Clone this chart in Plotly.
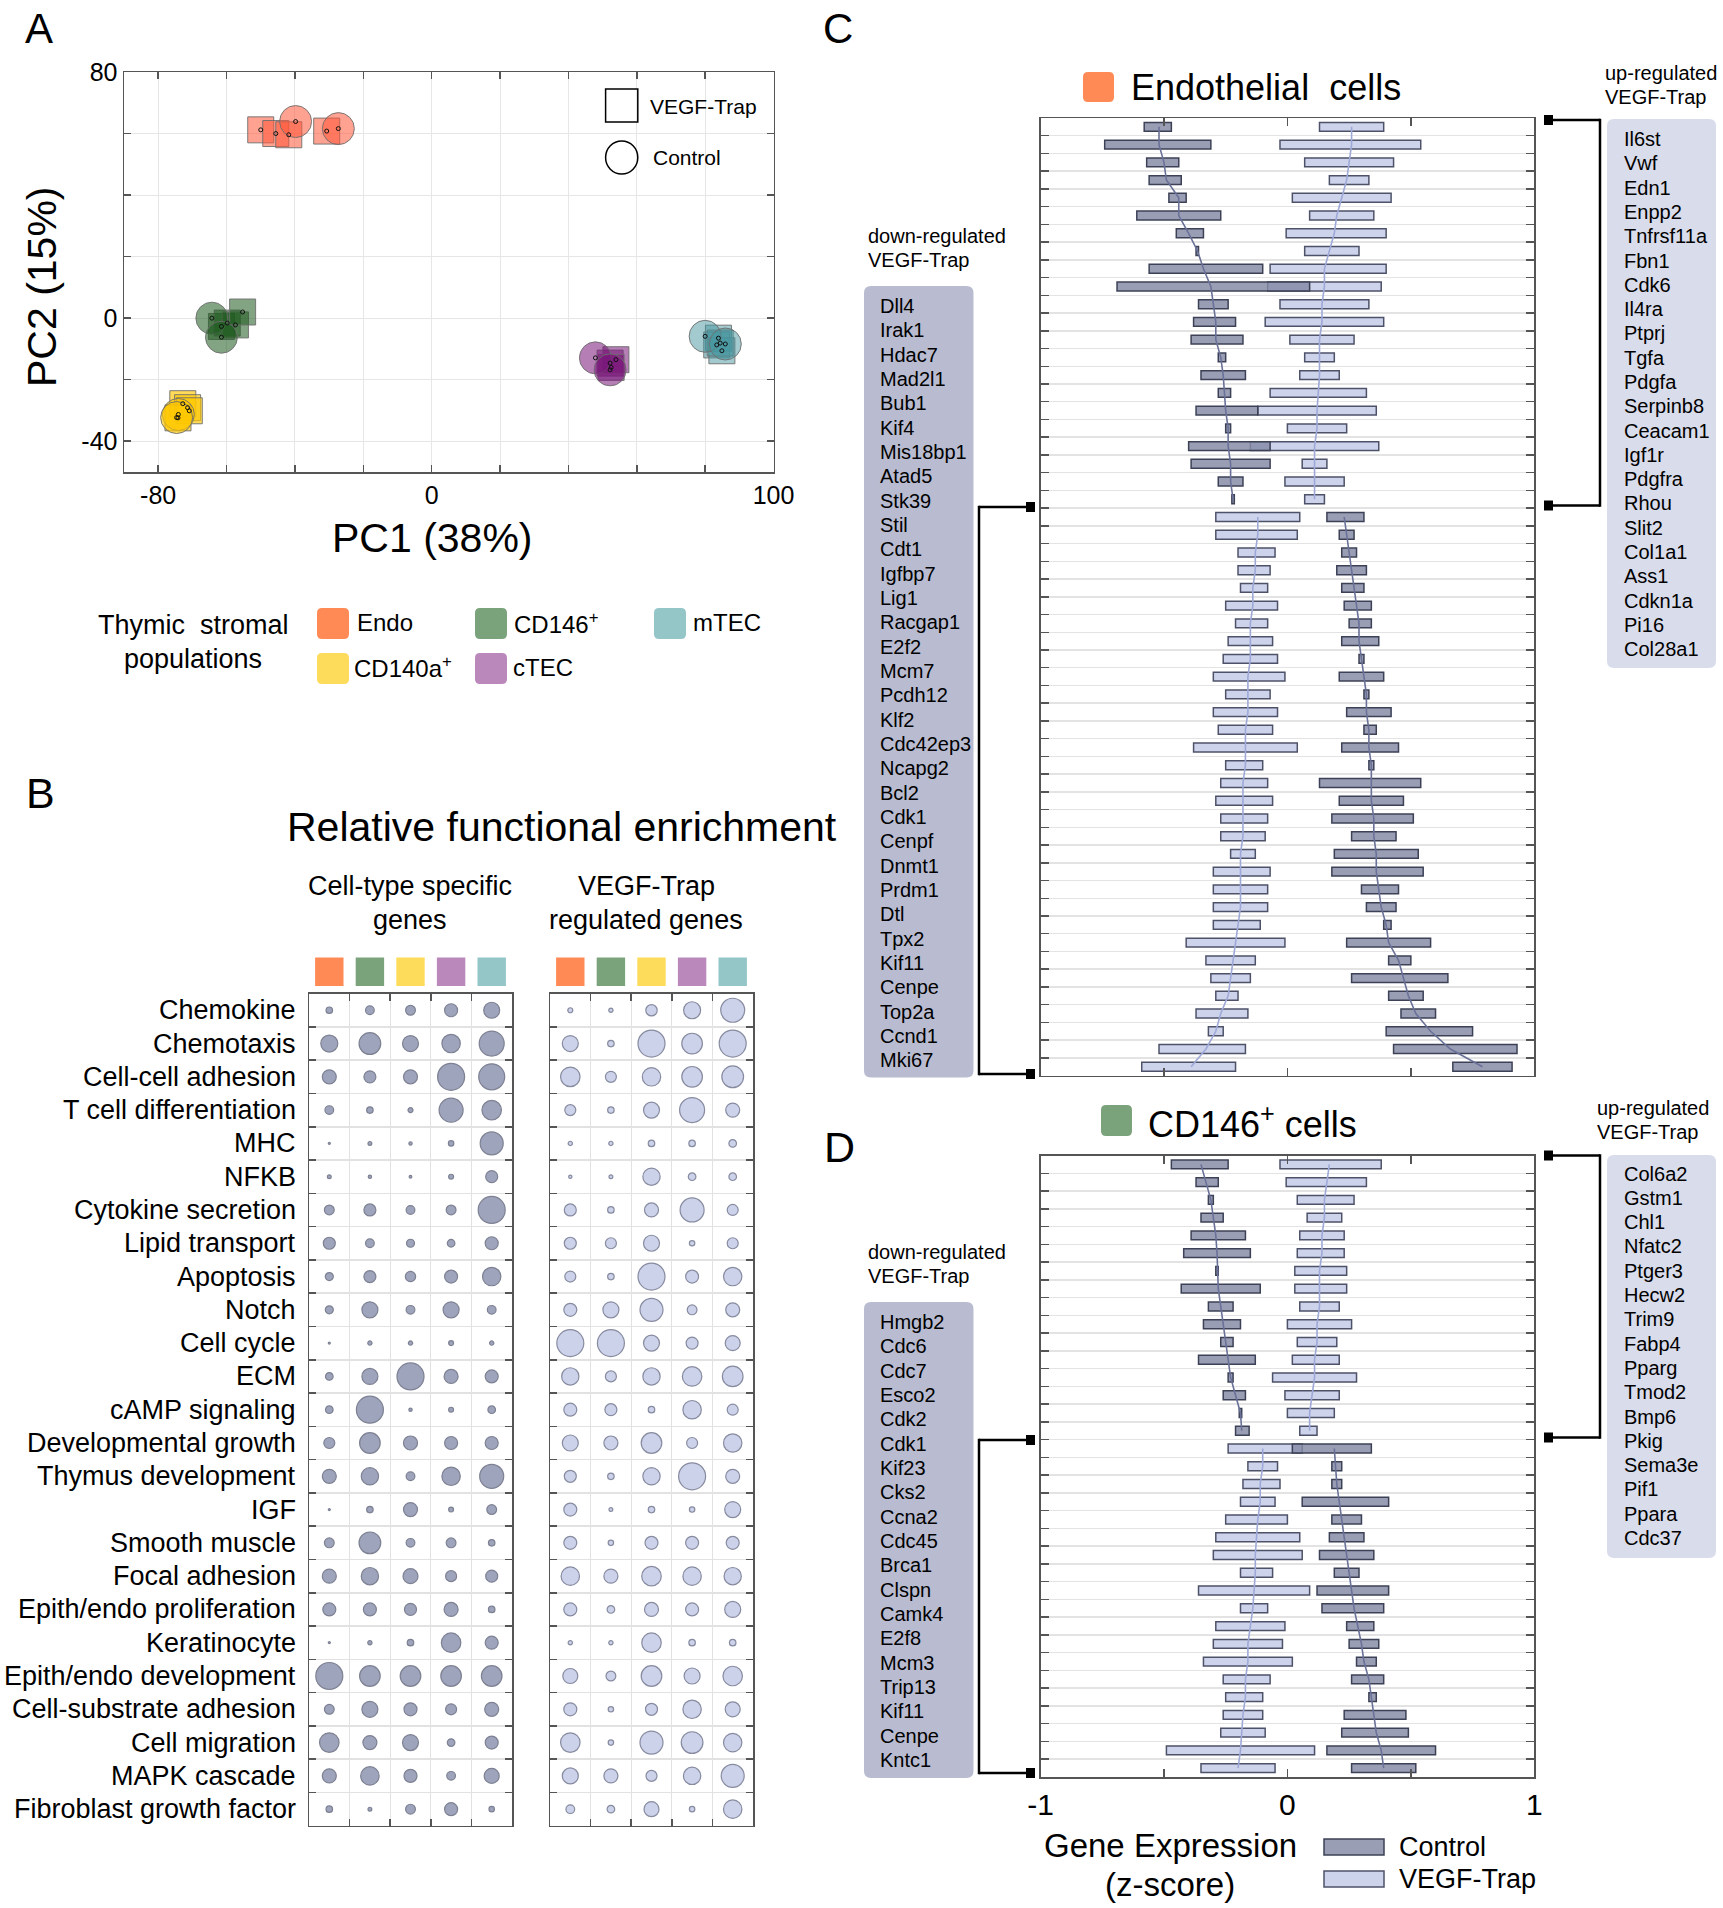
import plotly.graph_objects as go

W, H = 1723, 1908
def fx(x): return x / W
def fy(y): return 1 - y / H

FONT = "Liberation Sans, Arial, Helvetica, sans-serif"

# ---------------- Panel A data (PCA) ----------------
pop_names = ["Endo", "CD146<sup>+</sup>", "CD140a<sup>+</sup>", "cTEC", "mTEC"]
pop_colors = ["#FF8A56", "#7BA37B", "#FDDC5C", "#BB88BB", "#94C6C8"]
pca_fill = ["rgba(255,85,55,0.55)", "rgba(30,90,30,0.55)", "rgba(255,200,0,0.65)",
            "rgba(120,20,120,0.55)", "rgba(70,150,160,0.5)"]

endo_ctrl_pc1 = [-39.8, -27.3];            endo_ctrl_pc2 = [63.9, 61.6]
endo_vegf_pc1 = [-50.0, -45.6, -41.8, -30.7]; endo_vegf_pc2 = [61.2, 60.0, 59.6, 60.8]
cd146_ctrl_pc1 = [-64.3, -61.5];           cd146_ctrl_pc2 = [0.0, -6.2]
cd146_vegf_pc1 = [-61.5, -59.8, -57.4, -55.3]; cd146_vegf_pc2 = [-2.7, -1.6, -2.2, 2.0]
cd140_ctrl_pc1 = [-74.1, -74.6];           cd140_ctrl_pc2 = [-31.3, -32.3]
cd140_vegf_pc1 = [-72.8, -71.4, -70.9, -74.2]; cd140_vegf_pc2 = [-27.8, -29.1, -30.1, -32.4]
ctec_ctrl_pc1 = [47.9, 52.2];              ctec_ctrl_pc2 = [-12.9, -16.8]
ctec_vegf_pc1 = [52.2, 53.9, 52.5];        ctec_vegf_pc2 = [-14.6, -13.5, -16.0]
mtec_ctrl_pc1 = [80.0, 85.9];              mtec_ctrl_pc2 = [-5.9, -8.4]
mtec_vegf_pc1 = [83.9, 83.4, 84.9, 84.4];  mtec_vegf_pc2 = [-6.5, -8.7, -10.6, -8.1]

pc1_labels = [-80, 0, 100]
pc1_grid = [-60, -40, -20, 20, 40, 60, 80]
pc2_labels = [-40, 0, 80]
pc2_grid = [-20, 20, 40, 60]

# ---------------- Panel B data (dot plot) ----------------
functions = ["Chemokine", "Chemotaxis", "Cell-cell adhesion", "T cell differentiation", "MHC",
             "NFKB", "Cytokine secretion", "Lipid transport", "Apoptosis", "Notch", "Cell cycle",
             "ECM", "cAMP signaling", "Developmental growth", "Thymus development", "IGF",
             "Smooth muscle", "Focal adhesion", "Epith/endo proliferation", "Keratinocyte",
             "Epith/endo development", "Cell-substrate adhesion", "Cell migration",
             "MAPK cascade", "Fibroblast growth factor"]
ct_endo = [6.5, 17, 14, 8.7, 2, 3.8, 9.8, 12, 8, 8, 2, 7.6, 7.6, 11, 14, 2, 9.8, 14, 13, 2, 27, 9.8, 19.5, 14, 6.5]
ct_cd146 = [8.7, 21.7, 12, 6.5, 3.8, 3.3, 12, 8.7, 12, 16, 4.3, 16, 27, 20.6, 17.3, 6.5, 21.7, 17.3, 13, 4.3, 20.6, 16, 14, 18.4, 3.8]
ct_cd140 = [9.8, 16, 14, 5, 3.3, 2.7, 8.7, 8, 10.3, 8.7, 4.3, 27, 3.3, 14, 8.7, 14, 8.7, 15, 12, 6.5, 20.6, 13, 16, 13, 9.8]
ct_ctec = [13, 18.4, 27, 24, 5.4, 4.9, 9.8, 7.6, 13, 16, 4.9, 14, 4.9, 13, 18.4, 4.9, 9.8, 11, 14, 19.5, 20.6, 11, 7.6, 8.7, 13]
ct_mtec = [16, 25, 26, 19.5, 23, 12, 27, 13, 18.4, 8.7, 4.3, 13, 7.6, 13, 24, 9.8, 6.5, 12, 6.5, 13, 20.6, 14, 13, 15, 5.4]
vg_endo = [5, 16, 19.5, 11, 4.3, 3.3, 12, 12, 11, 13, 27, 17.3, 13, 16, 12, 13, 13, 18.4, 13, 4.3, 15, 13, 19.5, 16, 8.7]
vg_cd146 = [4.3, 6.5, 11, 6.5, 4.3, 3.8, 6.5, 11, 6.5, 16, 27, 11, 12, 14, 6.5, 3.8, 5.4, 14, 7.6, 4.3, 9.8, 5.4, 5.4, 14, 7.6]
vg_cd140 = [11.4, 27, 18.4, 16, 6.5, 17.3, 14, 16, 27, 23, 16, 17.3, 6.5, 20.6, 17.3, 6.5, 13, 19.5, 14, 19.5, 20.6, 12, 23, 11, 15]
vg_ctec = [17, 20.6, 20.6, 25, 6.5, 7.6, 24, 5.4, 13, 9.8, 12, 19.5, 18.4, 11, 27, 5.4, 13, 18.4, 13, 6.5, 16, 18.4, 21.7, 17.3, 5.4]
vg_mtec = [24, 27, 21.7, 14, 7.6, 7.6, 11, 11, 18.4, 14, 15, 20.6, 11, 18.4, 14, 16, 13, 17.3, 16, 6.5, 19.5, 15, 18.4, 23, 18.4]

# ---------------- Panel C data (Endothelial) ----------------
endo_up_genes = ["Il6st", "Vwf", "Edn1", "Enpp2", "Tnfrsf11a", "Fbn1", "Cdk6", "Il4ra", "Ptprj", "Tgfa",
                 "Pdgfa", "Serpinb8", "Ceacam1", "Igf1r", "Pdgfra", "Rhou", "Slit2", "Col1a1", "Ass1",
                 "Cdkn1a", "Pi16", "Col28a1"]
endo_down_genes = ["Dll4", "Irak1", "Hdac7", "Mad2l1", "Bub1", "Kif4", "Mis18bp1", "Atad5", "Stk39", "Stil",
                   "Cdt1", "Igfbp7", "Lig1", "Racgap1", "E2f2", "Mcm7", "Pcdh12", "Klf2", "Cdc42ep3",
                   "Ncapg2", "Bcl2", "Cdk1", "Cenpf", "Dnmt1", "Prdm1", "Dtl", "Tpx2", "Kif11", "Cenpe",
                   "Top2a", "Ccnd1", "Mki67"]
endo_ctrl_lo = [-0.58, -0.74, -0.57, -0.56, -0.48, -0.61, -0.45, -0.37, -0.56, -0.69, -0.36, -0.38, -0.39, -0.28,
                -0.35, -0.28, -0.37, -0.25, -0.40, -0.39, -0.28, -0.225,
                0.16, 0.21, 0.22, 0.20, 0.22, 0.23, 0.25, 0.22, 0.29, 0.21, 0.31, 0.24, 0.31, 0.22, 0.33, 0.13,
                0.21, 0.18, 0.26, 0.19, 0.18, 0.30, 0.32, 0.39, 0.24, 0.41, 0.26, 0.41, 0.46, 0.40, 0.43, 0.67]
endo_ctrl_hi = [-0.47, -0.31, -0.44, -0.43, -0.41, -0.27, -0.34, -0.36, -0.10, 0.09, -0.24, -0.21, -0.18, -0.25,
                -0.17, -0.23, -0.12, -0.23, -0.07, -0.07, -0.18, -0.215,
                0.31, 0.27, 0.28, 0.32, 0.31, 0.34, 0.34, 0.37, 0.31, 0.39, 0.33, 0.42, 0.36, 0.45, 0.35, 0.54,
                0.47, 0.51, 0.44, 0.53, 0.55, 0.45, 0.44, 0.42, 0.58, 0.50, 0.65, 0.55, 0.60, 0.75, 0.93, 0.91]
endo_ctrl_mid = [-0.52, -0.52, -0.50, -0.49, -0.44, -0.44, -0.40, -0.364, -0.34, -0.31, -0.30, -0.29, -0.29, -0.27,
                 -0.26, -0.255, -0.25, -0.24, -0.24, -0.23, -0.23, -0.22,
                 0.23, 0.24, 0.25, 0.26, 0.27, 0.28, 0.29, 0.29, 0.30, 0.31, 0.32, 0.32, 0.33, 0.33, 0.34, 0.34,
                 0.34, 0.35, 0.35, 0.36, 0.36, 0.37, 0.38, 0.40, 0.41, 0.45, 0.47, 0.49, 0.52, 0.58, 0.66, 0.79]
endo_vegf_lo = [0.13, -0.03, 0.07, 0.17, 0.02, 0.09, -0.005, 0.07, -0.07, -0.08, -0.03, -0.09, 0.01, 0.07,
                0.05, -0.07, -0.12, 0.00, -0.15, 0.06, -0.01, 0.07,
                -0.29, -0.29, -0.20, -0.20, -0.19, -0.25, -0.21, -0.24, -0.26, -0.30, -0.25, -0.30, -0.28, -0.38,
                -0.25, -0.27, -0.29, -0.27, -0.27, -0.23, -0.30, -0.30, -0.30, -0.30, -0.41, -0.33, -0.31, -0.29,
                -0.37, -0.32, -0.52, -0.59]
endo_vegf_hi = [0.39, 0.54, 0.43, 0.33, 0.42, 0.35, 0.40, 0.29, 0.40, 0.38, 0.33, 0.39, 0.27, 0.19,
                0.21, 0.32, 0.36, 0.24, 0.37, 0.16, 0.23, 0.15,
                0.05, 0.04, -0.05, -0.07, -0.08, -0.04, -0.08, -0.06, -0.04, -0.01, -0.07, -0.04, -0.06, 0.04,
                -0.10, -0.08, -0.06, -0.08, -0.09, -0.13, -0.07, -0.08, -0.08, -0.11, -0.01, -0.13, -0.15, -0.20,
                -0.16, -0.26, -0.17, -0.21]
endo_vegf_mid = [0.26, 0.26, 0.25, 0.24, 0.22, 0.20, 0.19, 0.17, 0.15, 0.15, 0.14, 0.14, 0.13, 0.13,
                 0.13, 0.125, 0.12, 0.12, 0.11, 0.11, 0.11, 0.11,
                 -0.12, -0.12, -0.13, -0.13, -0.14, -0.14, -0.15, -0.15, -0.15, -0.16, -0.16, -0.16, -0.17,
                 -0.17, -0.17, -0.18, -0.18, -0.18, -0.18, -0.19, -0.19, -0.19, -0.19, -0.20, -0.21, -0.22,
                 -0.23, -0.24, -0.27, -0.29, -0.33, -0.39]

# ---------------- Panel D data (CD146+) ----------------
cd146_up_genes = ["Col6a2", "Gstm1", "Chl1", "Nfatc2", "Ptger3", "Hecw2", "Trim9", "Fabp4", "Pparg", "Tmod2",
                  "Bmp6", "Pkig", "Sema3e", "Pif1", "Ppara", "Cdc37"]
cd146_down_genes = ["Hmgb2", "Cdc6", "Cdc7", "Esco2", "Cdk2", "Cdk1", "Kif23", "Cks2", "Ccna2", "Cdc45",
                    "Brca1", "Clspn", "Camk4", "E2f8", "Mcm3", "Trip13", "Kif11", "Cenpe", "Kntc1"]
cd146_ctrl_lo = [-0.47, -0.37, -0.32, -0.35, -0.39, -0.42, -0.29, -0.43, -0.32, -0.34, -0.27, -0.36, -0.24, -0.26,
                 -0.195, -0.21,
                 0.02, 0.18, 0.18, 0.06, 0.18, 0.17, 0.13, 0.19, 0.12, 0.14, 0.24, 0.25, 0.28, 0.26, 0.33, 0.23,
                 0.22, 0.16, 0.26]
cd146_ctrl_hi = [-0.24, -0.28, -0.30, -0.26, -0.17, -0.15, -0.28, -0.11, -0.22, -0.19, -0.22, -0.13, -0.22, -0.17,
                 -0.185, -0.155,
                 0.34, 0.22, 0.22, 0.41, 0.30, 0.31, 0.35, 0.29, 0.41, 0.39, 0.35, 0.37, 0.36, 0.39, 0.36, 0.48,
                 0.49, 0.60, 0.52]
cd146_ctrl_mid = [-0.35, -0.33, -0.31, -0.30, -0.29, -0.285, -0.283, -0.28, -0.27, -0.26, -0.25, -0.24, -0.23,
                  -0.21, -0.19, -0.185,
                  0.19, 0.195, 0.20, 0.21, 0.22, 0.23, 0.24, 0.25, 0.26, 0.27, 0.285, 0.30, 0.31, 0.33, 0.34,
                  0.35, 0.36, 0.38, 0.39]
cd146_vegf_lo = [-0.03, -0.005, 0.04, 0.08, 0.05, 0.04, 0.03, 0.03, 0.05, 0.00, 0.04, 0.02, -0.06, -0.01, 0.00, 0.05,
                 -0.24, -0.16, -0.18, -0.19, -0.25, -0.29, -0.30, -0.19, -0.36, -0.19, -0.29, -0.30, -0.34, -0.26,
                 -0.25, -0.26, -0.27, -0.49, -0.35]
cd146_vegf_hi = [0.38, 0.32, 0.27, 0.22, 0.23, 0.23, 0.24, 0.24, 0.21, 0.26, 0.20, 0.21, 0.28, 0.21, 0.19, 0.12,
                 0.06, -0.04, -0.03, -0.05, 0.00, 0.05, 0.06, -0.06, 0.09, -0.08, -0.01, -0.02, 0.02, -0.07,
                 -0.10, -0.10, -0.09, 0.11, -0.05]
cd146_vegf_mid = [0.17, 0.16, 0.15, 0.15, 0.14, 0.14, 0.13, 0.13, 0.13, 0.12, 0.12, 0.11, 0.11, 0.10, 0.09, 0.09,
                  -0.10, -0.10, -0.11, -0.11, -0.12, -0.125, -0.13, -0.13, -0.135, -0.14, -0.15, -0.16, -0.16,
                  -0.17, -0.17, -0.18, -0.185, -0.19, -0.20]

zscore_labels = [-1, 0, 1]
zscore_minor = [-0.5, 0.5]

CTRL_FILL = "rgba(132,137,165,0.82)"
CTRL_EDGE = "#3c4156"
VEGF_FILL = "#CED3EC"
VEGF_EDGE = "#4d5268"
CTRL_LINE = "#6a7198"
VEGF_LINE = "#9ea9d8"

fig = go.Figure()

# ---------------- Panel A traces ----------------
groups = [
    (endo_ctrl_pc1, endo_ctrl_pc2, endo_vegf_pc1, endo_vegf_pc2),
    (cd146_ctrl_pc1, cd146_ctrl_pc2, cd146_vegf_pc1, cd146_vegf_pc2),
    (cd140_ctrl_pc1, cd140_ctrl_pc2, cd140_vegf_pc1, cd140_vegf_pc2),
    (ctec_ctrl_pc1, ctec_ctrl_pc2, ctec_vegf_pc1, ctec_vegf_pc2),
    (mtec_ctrl_pc1, mtec_ctrl_pc2, mtec_vegf_pc1, mtec_vegf_pc2),
]
for k, (cx, cy, vx, vy) in enumerate(groups):
    fig.add_trace(go.Scatter(x=vx, y=vy, mode="markers", xaxis="x", yaxis="y", showlegend=False,
                             marker=dict(symbol="square", size=26, color=pca_fill[k],
                                         line=dict(color="rgba(110,110,110,0.9)", width=1))))
    fig.add_trace(go.Scatter(x=cx, y=cy, mode="markers", xaxis="x", yaxis="y", showlegend=False,
                             marker=dict(symbol="circle", size=32, color=pca_fill[k],
                                         line=dict(color="rgba(110,110,110,0.9)", width=1))))
    fig.add_trace(go.Scatter(x=cx + vx, y=cy + vy, mode="markers", xaxis="x", yaxis="y", showlegend=False,
                             marker=dict(symbol="circle-open", size=4, color="#111",
                                         line=dict(width=1))))

# ---------------- Panel B traces ----------------
ct_cols = [ct_endo, ct_cd146, ct_cd140, ct_ctec, ct_mtec]
vg_cols = [vg_endo, vg_cd146, vg_cd140, vg_ctec, vg_mtec]
for cols, xa, ya, fill, edge in [(ct_cols, "x2", "y2", "#767E9F", "#474d66"),
                                 (vg_cols, "x3", "y3", "#B8BFE3", "#555b78")]:
    xs, ys, ss = [], [], []
    for j, col in enumerate(cols):
        for i, v in enumerate(col):
            xs.append(j); ys.append(i); ss.append(v)
    fig.add_trace(go.Scatter(x=xs, y=ys, mode="markers", xaxis=xa, yaxis=ya, showlegend=False,
                             marker=dict(size=ss, sizemode="diameter", sizeref=1, color=fill,
                                         line=dict(color=edge, width=1.2))))

# ---------------- Panels C & D traces ----------------
def add_box_panel(up_genes, down_genes, clo, chi, cmid, vlo, vhi, vmid, xa, ya):
    n_up = len(up_genes)
    rows = list(range(n_up + len(down_genes)))
    fig.add_trace(go.Bar(y=rows, x=[h - l for l, h in zip(vlo, vhi)], base=vlo, orientation="h",
                         width=0.5, xaxis=xa, yaxis=ya, showlegend=False,
                         marker=dict(color=VEGF_FILL, line=dict(color=VEGF_EDGE, width=1.5))))
    fig.add_trace(go.Bar(y=rows, x=[h - l for l, h in zip(clo, chi)], base=clo, orientation="h",
                         width=0.5, xaxis=xa, yaxis=ya, showlegend=False,
                         marker=dict(color=CTRL_FILL, line=dict(color=CTRL_EDGE, width=1.5))))
    for seg in (slice(0, n_up), slice(n_up, None)):
        fig.add_trace(go.Scatter(x=cmid[seg], y=rows[seg], mode="lines", xaxis=xa, yaxis=ya,
                                 showlegend=False, line=dict(color=CTRL_LINE, width=1.6)))
        fig.add_trace(go.Scatter(x=vmid[seg], y=rows[seg], mode="lines", xaxis=xa, yaxis=ya,
                                 showlegend=False, line=dict(color=VEGF_LINE, width=1.6)))
    return len(rows)

nC = add_box_panel(endo_up_genes, endo_down_genes, endo_ctrl_lo, endo_ctrl_hi, endo_ctrl_mid,
                   endo_vegf_lo, endo_vegf_hi, endo_vegf_mid, "x4", "y4")
nD = add_box_panel(cd146_up_genes, cd146_down_genes, cd146_ctrl_lo, cd146_ctrl_hi, cd146_ctrl_mid,
                   cd146_vegf_lo, cd146_vegf_hi, cd146_vegf_mid, "x5", "y5")

# ---------------- Axes ----------------
AX = "#555555"
def frame(**kw):
    d = dict(showline=True, linecolor=AX, linewidth=1.5, mirror="allticks", zeroline=False,
             ticks="inside", tickcolor=AX, tickwidth=1.5, fixedrange=True, automargin=False,
             tickfont=dict(family=FONT, size=25, color="black"))
    d.update(kw)
    return d

def minor(vals, grid, gridcolor="#e6e6e6", ticklen=7, gridwidth=1):
    return dict(tickmode="array", tickvals=vals, ticks="inside", ticklen=ticklen, tickcolor=AX,
                tickwidth=1.5, showgrid=grid, gridcolor=gridcolor, gridwidth=gridwidth)

nf = len(functions)
layout_axes = dict(
    xaxis=frame(domain=[fx(124), fx(773.5)], range=[-90, 100], tickmode="array", tickvals=pc1_labels,
                ticktext=[str(v) for v in pc1_labels], ticklen=7, showgrid=True, gridcolor="#e6e6e6",
                gridwidth=1, anchor="y", minor=minor(pc1_grid, True)),
    yaxis=frame(domain=[fy(472), fy(72)], range=[-50, 80], tickmode="array", tickvals=pc2_labels,
                ticktext=[str(v) for v in pc2_labels], ticklen=7, showgrid=True, gridcolor="#e6e6e6",
                gridwidth=1, anchor="x", minor=minor(pc2_grid, True)),
    xaxis2=frame(domain=[fx(309), fx(512)], range=[-0.5, 4.5], tickmode="array",
                 tickvals=[0.5, 1.5, 2.5, 3.5], ticklen=7, showticklabels=False, showgrid=True,
                 gridcolor="#e2e2e2", anchor="y2"),
    yaxis2=frame(domain=[fy(1825.8), fy(993.6)], range=[nf - 0.5, -0.5], tickmode="array",
                 tickvals=[i + 0.5 for i in range(nf - 1)], ticklen=7, showticklabels=False,
                 showgrid=True, gridcolor="#e2e2e2", gridwidth=1.5, anchor="x2"),
    xaxis3=frame(domain=[fx(550), fx(753)], range=[-0.5, 4.5], tickmode="array",
                 tickvals=[0.5, 1.5, 2.5, 3.5], ticklen=7, showticklabels=False, showgrid=True,
                 gridcolor="#e2e2e2", anchor="y3"),
    yaxis3=frame(domain=[fy(1825.8), fy(993.6)], range=[nf - 0.5, -0.5], tickmode="array",
                 tickvals=[i + 0.5 for i in range(nf - 1)], ticklen=7, showticklabels=False,
                 showgrid=True, gridcolor="#e2e2e2", gridwidth=1.5, anchor="x3"),
    xaxis4=frame(domain=[fx(1040.5), fx(1534.3)], range=[-1, 1], tickmode="array",
                 tickvals=[-0.5, 0, 0.5], ticklen=8, showticklabels=False, showgrid=False, anchor="y4"),
    yaxis4=frame(domain=[fy(1075.6), fy(118)], range=[nC - 0.5, -0.5], tickmode="array",
                 tickvals=[i + 0.5 for i in range(nC - 1)], ticklen=8, showticklabels=False,
                 showgrid=True, gridcolor="#e3e3e3", gridwidth=1.5, anchor="x4"),
    xaxis5=frame(domain=[fx(1040.5), fx(1534.3)], range=[-1, 1], tickmode="array",
                 tickvals=zscore_labels, ticktext=[str(v) for v in zscore_labels], ticklen=8,
                 showgrid=False, anchor="y5", tickfont=dict(family=FONT, size=30, color="black"),
                 minor=minor(zscore_minor, False, ticklen=8)),
    yaxis5=frame(domain=[fy(1777), fy(1155.5)], range=[nD - 0.5, -0.5], tickmode="array",
                 tickvals=[i + 0.5 for i in range(nD - 1)], ticklen=8, showticklabels=False,
                 showgrid=True, gridcolor="#e3e3e3", gridwidth=1.5, anchor="x5"),
)

# ---------------- Annotations & shapes ----------------
ann = []
shapes = []

def text(x, y, s, size, xanchor="left", yanchor="middle", **kw):
    ann.append(dict(x=fx(x), y=fy(y), xref="paper", yref="paper", text=s, showarrow=False,
                    xanchor=xanchor, yanchor=yanchor,
                    font=dict(family=FONT, size=size, color=kw.pop("color", "black")), **kw))

def rect(x0, y0, x1, y1, fill, line_color=None, lw=0):
    shapes.append(dict(type="rect", xref="paper", yref="paper", x0=fx(x0), x1=fx(x1), y0=fy(y1), y1=fy(y0),
                       fillcolor=fill, line=dict(color=line_color or fill, width=lw), layer="above"))

def rrect(x0, y0, x1, y1, r, fill):
    p = [("M", x0 + r, y0), ("L", x1 - r, y0), ("Q", x1, y0, x1, y0 + r), ("L", x1, y1 - r),
         ("Q", x1, y1, x1 - r, y1), ("L", x0 + r, y1), ("Q", x0, y1, x0, y1 - r), ("L", x0, y0 + r),
         ("Q", x0, y0, x0 + r, y0)]
    s = ""
    for seg in p:
        if seg[0] == "Q":
            s += "Q%.5f,%.5f %.5f,%.5f " % (fx(seg[1]), fy(seg[2]), fx(seg[3]), fy(seg[4]))
        else:
            s += "%s%.5f,%.5f " % (seg[0], fx(seg[1]), fy(seg[2]))
    s += "Z"
    shapes.append(dict(type="path", xref="paper", yref="paper", path=s, fillcolor=fill,
                       line=dict(width=0), layer="above"))

def line(x0, y0, x1, y1, color="black", w=2.5):
    shapes.append(dict(type="line", xref="paper", yref="paper", x0=fx(x0), y0=fy(y0), x1=fx(x1), y1=fy(y1),
                       line=dict(color=color, width=w), layer="above"))

# Panel letters
text(24, 28, "A", 42, borderpad=0); text(24, 793, "B", 43); text(822, 28, "C", 42, borderpad=0)
text(822, 1147, "D", 43)

# Panel A titles & legends
text(433, 538, "PC1 (38%)", 41, xanchor="center")
ann.append(dict(x=fx(42), y=fy(287), xref="paper", yref="paper", text="PC2 (15%)", showarrow=False,
                textangle=-90, xanchor="center", yanchor="middle", font=dict(family=FONT, size=41, color="black")))
shapes.append(dict(type="rect", xref="paper", yref="paper", x0=fx(605.6), x1=fx(637.8), y0=fy(122), y1=fy(89),
                   line=dict(color="black", width=1.5), fillcolor="rgba(0,0,0,0)", layer="above"))
shapes.append(dict(type="circle", xref="paper", yref="paper", x0=fx(605.6), x1=fx(637.8), y0=fy(174), y1=fy(141),
                   line=dict(color="black", width=1.5), fillcolor="rgba(0,0,0,0)", layer="above"))
text(648, 106, "VEGF-Trap", 21)
text(651, 158, "Control", 21)

text(193, 625, "Thymic&nbsp; stromal", 27, xanchor="center")
text(193, 659, "populations", 27, xanchor="center")
leg_pos = [(317, 608, 355, 623), (475, 608, 512, 623), (317, 653, 352, 667), (475, 653, 511, 667), (654, 608, 691, 623)]
for k, (sx, sy, tx, ty) in enumerate(leg_pos):
    rrect(sx, sy, sx + 32, sy + 31, 5, pop_colors[k])
    text(tx, ty, pop_names[k], 24)

# Panel B titles
text(562, 827, "Relative functional enrichment", 41, xanchor="center")
text(410, 886, "Cell-type specific", 27, xanchor="center")
text(410, 920, "genes", 27, xanchor="center")
text(646, 886, "VEGF-Trap", 27, xanchor="center")
text(646, 920, "regulated genes", 27, xanchor="center")
for xa in ("x2", "x3"):
    for j in range(5):
        shapes.append(dict(type="rect", xref=xa, yref="paper", x0=j - 0.35, x1=j + 0.35,
                           y0=fy(986), y1=fy(957.5), fillcolor=pop_colors[j],
                           line=dict(width=0), layer="above"))
for i, name in enumerate(functions):
    ann.append(dict(x=fx(298), y=i, xref="paper", yref="y2", text=name, showarrow=False,
                    xanchor="right", yanchor="middle", font=dict(family=FONT, size=27, color="black")))

# Panels C & D titles
rrect(1083, 72, 1114, 102, 5, pop_colors[0])
text(1129, 87, "Endothelial  cells", 36)
rrect(1101, 1105, 1132, 1136, 5, pop_colors[1])
text(1146, 1122, "CD146<sup>+</sup> cells", 36)

# Gene label boxes and brackets
def gene_block(genes_up, genes_down, up_box, down_box, up_y0, down_y0, up_lab_y, down_lab_y,
               br_up, br_down):
    rrect(*up_box, 7, "#D9DCEA")
    rrect(*down_box, 7, "#B9BCD0")
    for i, g in enumerate(genes_up):
        text(1622, up_y0 + i * 24.3, g, 20)
    for i, g in enumerate(genes_down):
        text(878, down_y0 + i * 24.33, g, 20)
    text(up_lab_y[0], up_lab_y[1], "up-regulated", 20)
    text(up_lab_y[0], up_lab_y[1] + 24, "VEGF-Trap", 20)
    text(866, down_lab_y, "down-regulated", 20)
    text(866, down_lab_y + 24, "VEGF-Trap", 20)
    ya, yb = br_up
    for yy in (ya, yb):
        rect(1544, yy - 5, 1553, yy + 5, "black")
        line(1552, yy, 1600, yy)
    line(1600, ya - 1.2, 1600, yb + 1.2)
    ya, yb = br_down
    for yy in (ya, yb):
        rect(1026, yy - 5, 1035, yy + 5, "black")
        line(979, yy, 1027, yy)
    line(979, ya - 1.2, 979, yb + 1.2)

gene_block(endo_up_genes, endo_down_genes, (1607, 119, 1716, 668), (864, 286, 973.5, 1077.5),
           139, 306, (1603, 73), 236, (120, 505.5), (507, 1074))
gene_block(cd146_up_genes, cd146_down_genes, (1607, 1155, 1716, 1558), (864, 1302, 973.5, 1778),
           1173.5, 1322, (1595, 1108), 1252, (1155.5, 1437.5), (1440, 1773))

# Bottom of D: axis title and legend
text(1170, 1845, "Gene Expression", 33, xanchor="center")
text(1170, 1884, "(z-score)", 33, xanchor="center")
rect(1324, 1839, 1384, 1855, CTRL_FILL, CTRL_EDGE, 1.5)
rect(1324, 1871, 1384, 1887, VEGF_FILL, VEGF_EDGE, 1.5)
text(1397, 1847, "Control", 27)
text(1397, 1879, "VEGF-Trap", 27)

fig.update_layout(
    template="none",
    width=W, height=H, margin=dict(l=0, r=0, t=0, b=0, pad=0), autosize=False,
    paper_bgcolor="white", plot_bgcolor="white", barmode="overlay", bargap=0,
    showlegend=False, annotations=ann, shapes=shapes,
    font=dict(family=FONT, color="black"),
    **layout_axes,
)

fig.write_html("out.html", config={"displayModeBar": False, "staticPlot": True},
               post_script="document.body.style.margin='0';document.body.style.overflow='hidden';")
